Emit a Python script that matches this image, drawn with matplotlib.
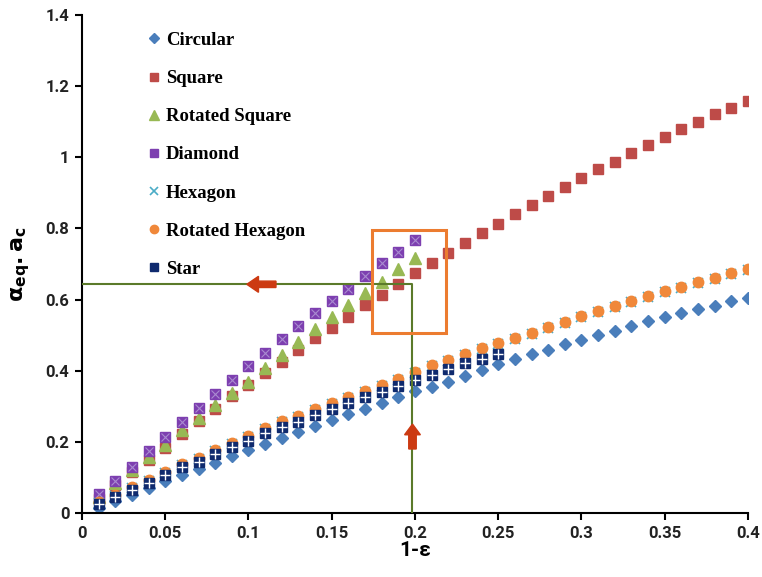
import matplotlib
matplotlib.use("Agg")
import matplotlib.pyplot as plt
from matplotlib.patches import Rectangle, FancyArrow

# --- data ---
x_all = [0.01, 0.02, 0.03, 0.04, 0.05, 0.06, 0.07, 0.08, 0.09, 0.10,
         0.11, 0.12, 0.13, 0.14, 0.15, 0.16, 0.17, 0.18, 0.19, 0.20,
         0.21, 0.22, 0.23, 0.24, 0.25, 0.26, 0.27, 0.28, 0.29, 0.30,
         0.31, 0.32, 0.33, 0.34, 0.35, 0.36, 0.37, 0.38, 0.39, 0.40]

circular = [0.015, 0.033, 0.052, 0.070, 0.089, 0.107, 0.124, 0.142, 0.159, 0.177,
            0.195, 0.212, 0.228, 0.244, 0.261, 0.277, 0.293, 0.309, 0.326, 0.343,
            0.355, 0.369, 0.385, 0.402, 0.419, 0.433, 0.447, 0.458, 0.475, 0.486,
            0.500, 0.512, 0.526, 0.540, 0.551, 0.562, 0.574, 0.582, 0.596, 0.604]

square = [0.040, 0.078, 0.115, 0.150, 0.184, 0.222, 0.258, 0.293, 0.328, 0.360,
          0.394, 0.425, 0.458, 0.492, 0.520, 0.551, 0.585, 0.613, 0.644, 0.675,
          0.703, 0.731, 0.760, 0.787, 0.812, 0.841, 0.866, 0.891, 0.917, 0.942,
          0.967, 0.987, 1.012, 1.035, 1.057, 1.080, 1.099, 1.122, 1.139, 1.158]

rot_square = [0.046, 0.085, 0.122, 0.158, 0.192, 0.232, 0.268, 0.305, 0.338, 0.368,
              0.408, 0.444, 0.481, 0.517, 0.551, 0.585, 0.618, 0.649, 0.686, 0.717]

diamond = [0.053, 0.090, 0.129, 0.174, 0.214, 0.256, 0.295, 0.335, 0.374, 0.413,
           0.450, 0.489, 0.526, 0.562, 0.596, 0.630, 0.666, 0.703, 0.734, 0.768]

hexagon = [0.027, 0.049, 0.070, 0.091, 0.113, 0.135, 0.152, 0.175, 0.195, 0.214,
           0.237, 0.255, 0.271, 0.290, 0.307, 0.324, 0.341, 0.357, 0.375, 0.394,
           0.413, 0.427, 0.444, 0.460, 0.475, 0.489, 0.503, 0.520, 0.534, 0.551,
           0.565, 0.579, 0.593, 0.607, 0.621, 0.632, 0.646, 0.658, 0.672, 0.683]

rot_hexagon = [0.030, 0.052, 0.073, 0.094, 0.116, 0.138, 0.155, 0.178, 0.198, 0.217,
               0.240, 0.258, 0.274, 0.293, 0.310, 0.327, 0.344, 0.360, 0.378, 0.397,
               0.416, 0.430, 0.447, 0.463, 0.478, 0.492, 0.506, 0.523, 0.537, 0.554,
               0.568, 0.582, 0.596, 0.610, 0.624, 0.635, 0.649, 0.661, 0.675, 0.686]

star = [0.025, 0.045, 0.065, 0.084, 0.107, 0.129, 0.143, 0.166, 0.185, 0.203,
        0.226, 0.243, 0.257, 0.276, 0.292, 0.309, 0.326, 0.340, 0.357, 0.374,
        0.388, 0.405, 0.421, 0.433, 0.447]

x_ticks = [0, 0.05, 0.1, 0.15, 0.2, 0.25, 0.3, 0.35, 0.4]
x_ticklabels = ["0", "0.05", "0.1", "0.15", "0.2", "0.25", "0.3", "0.35", "0.4"]
y_ticks = [0, 0.2, 0.4, 0.6, 0.8, 1, 1.2, 1.4]
y_ticklabels = ["0", "0.2", "0.4", "0.6", "0.8", "1", "1.2", "1.4"]

# markierte Stelle
x_mark = 0.1985
y_mark = 0.643

fig = plt.figure(figsize=(7.62, 5.77), dpi=100)
ax = fig.add_axes([0.1076, 0.1109, 0.874, 0.863])

ms = 7.5
ax.plot(x_all, circular, "D", color="#4a7ebb", ms=6.3, mec="#4a7ebb", label="Circular")
ax.plot(x_all, square, "s", color="#be4b48", ms=ms, mec="#be4b48", label="Square")
ax.plot(x_all[:20], rot_square, "^", color="#98b954", ms=8.2, mec="#98b954", label="Rotated Square")
ax.plot(x_all[:20], diamond, "s", color="#7d3fb0", ms=ms, mec="#7d3fb0", label="Diamond")
ax.plot(x_all[:20], diamond, "x", color="#a98bd0", ms=6, mew=0.8)
ax.plot(x_all, hexagon, "x", color="#4bacc6", ms=7.5, mew=1.2, label="Hexagon")
ax.plot(x_all, rot_hexagon, "o", color="#f0883a", ms=ms, mec="#f0883a", label="Rotated Hexagon")
ax.plot(x_all[:25], star, "s", color="#0f2a6e", ms=ms, mec="#0f2a6e", label="Star")
ax.plot(x_all[:25], star, "+", color="white", ms=7, mew=1.0)

# Hilfslinien + Pfeile
ax.plot([0, x_mark, x_mark], [y_mark, y_mark, 0], color="#5b7a2a", lw=1.5, zorder=5)
ax.add_patch(Rectangle((0.174, 0.505), 0.0445, 0.291, fill=False,
                       edgecolor="#ec7c30", lw=2.2, zorder=6))
ax.add_patch(FancyArrow(0.1165, y_mark, -0.0175, 0, width=0.018, head_width=0.045,
                        head_length=0.007, length_includes_head=True,
                        color="#cc3a12", zorder=7))
ax.add_patch(FancyArrow(x_mark, 0.18, 0, 0.07, width=0.0045, head_width=0.0095,
                        head_length=0.03, length_includes_head=True,
                        color="#cc3a12", zorder=7))

tick_font = ["Roboto", "DejaVu Sans"]
ax.set_xlim(0, 0.4)
ax.set_ylim(0, 1.4)
ax.set_xticks(x_ticks)
ax.set_xticklabels(x_ticklabels)
ax.set_yticks(y_ticks)
ax.set_yticklabels(y_ticklabels)
for lab in ax.get_xticklabels() + ax.get_yticklabels():
    lab.set_family(tick_font)
    lab.set_fontweight("bold")
    lab.set_fontsize(12)
    lab.set_color("#222222")
ax.tick_params(direction="out", length=5, width=1.5, pad=4)
ax.spines["top"].set_visible(False)
ax.spines["right"].set_visible(False)
ax.spines["left"].set_linewidth(1.5)
ax.spines["bottom"].set_linewidth(1.5)

ax.set_xlabel("1-ε", fontsize=15, fontweight="bold", family=tick_font, labelpad=0)
plt.rcParams["mathtext.default"] = "bf"
ax.set_ylabel(r"$\alpha_{eq}\mathbf{.}a_{c}$", fontsize=16, labelpad=10)

leg = ax.legend(loc="upper left", bbox_to_anchor=(0.075, 1.0), frameon=False,
                prop={"family": "Liberation Serif", "weight": "bold", "size": 13.5},
                labelspacing=1.12, handlelength=0.6, handletextpad=0.3,
                markerscale=0.8)

fig.savefig("out.png", dpi=100)
